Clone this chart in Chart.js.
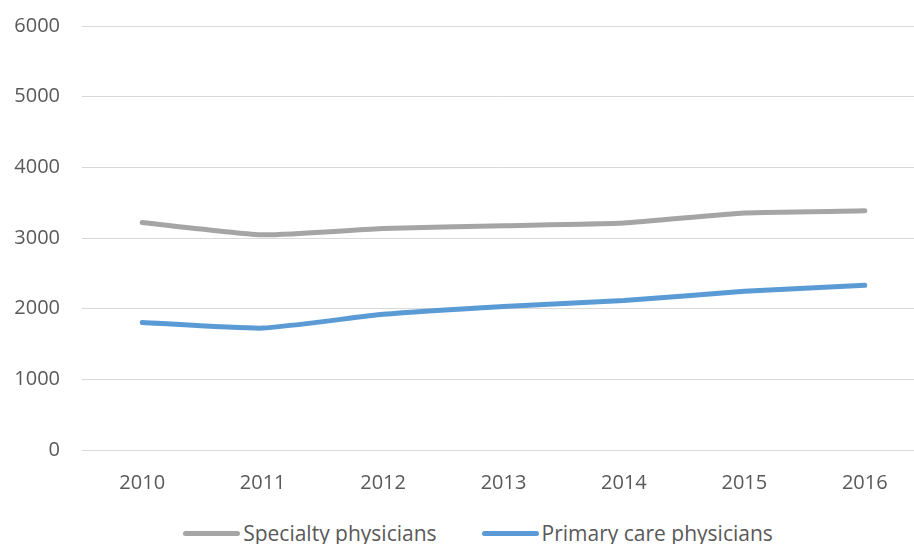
<!DOCTYPE html>
<html>
<head>
<meta charset="utf-8">
<script src="https://cdn.jsdelivr.net/npm/chart.js@4"></script>
<style>
  html, body { margin: 0; padding: 0; background: #fff; overflow: hidden; }
  body { position: relative; width: 914px; height: 544px; }
  #wrap { position: absolute; left: 0; top: -8px; width: 935px; height: 524px; }
  #legend {
    position: absolute; left: 0; top: 518px; width: 956px; height: 30px;
    display: flex; justify-content: center; align-items: center; gap: 45px;
    font-family: 'Open Sans', 'Liberation Sans', sans-serif; font-size: 21px; color: #595959;
  }
  #legend .item { display: flex; align-items: center; white-space: nowrap; }
  #legend .swatch { width: 57px; height: 5px; border-radius: 3px; margin-right: 3px; }
</style>
</head>
<body>
<div id="wrap"><canvas id="physiciansChart"></canvas></div>
<div id="legend"></div>
<script>
// Datos del gráfico
const years = ['2010', '2011', '2012', '2013', '2014', '2015', '2016'];
const specialty = [3220, 3045, 3135, 3175, 3212, 3355, 3385];
const primaryCare = [1805, 1725, 1920, 2032, 2115, 2245, 2330];
const seriesNames = ['Specialty physicians', 'Primary care physicians'];
const yTicks = [0, 1000, 2000, 3000, 4000, 5000, 6000];

const textColor = '#595959';
const gridColor = '#D9D9D9';
const fontFamily = "'Open Sans', 'Liberation Sans', sans-serif";

// Leyenda en HTML, generada a partir de los datasets
const htmlLegend = {
    id: 'htmlLegend',
    afterUpdate(chart) {
        const box = document.getElementById('legend');
        box.innerHTML = '';
        chart.data.datasets.forEach((ds) => {
            const item = document.createElement('div');
            item.className = 'item';
            const sw = document.createElement('span');
            sw.className = 'swatch';
            sw.style.background = ds.borderColor;
            const txt = document.createElement('span');
            txt.textContent = ds.label;
            item.appendChild(sw);
            item.appendChild(txt);
            box.appendChild(item);
        });
    }
};

const ctx = document.getElementById('physiciansChart');

new Chart(ctx, {
    type: 'line',
    data: {
        labels: years,
        datasets: [
            {
                label: seriesNames[0],
                data: specialty,
                borderColor: '#A5A5A5',
                borderWidth: 5,
                pointRadius: 0,
                tension: 0.15,
                borderCapStyle: 'round'
            },
            {
                label: seriesNames[1],
                data: primaryCare,
                borderColor: '#5B9BD5',
                borderWidth: 5,
                pointRadius: 0,
                tension: 0.15,
                borderCapStyle: 'round'
            }
        ]
    },
    plugins: [htmlLegend],
    options: {
        responsive: true,
        maintainAspectRatio: false,
        animation: false,
        layout: { padding: { top: 0, right: 10, left: 0, bottom: 0 } },
        scales: {
            x: {
                offset: true,
                grid: { display: false, drawTicks: false },
                border: { display: false },
                ticks: { color: textColor, font: { family: fontFamily, size: 20 }, padding: 21 }
            },
            y: {
                min: 0,
                max: 6000,
                afterBuildTicks: (scale) => { scale.ticks = yTicks.map(v => ({ value: v })); },
                afterFit: (scale) => { scale.width = 82; },
                grid: { color: gridColor, lineWidth: 1, drawTicks: false },
                border: { display: false },
                ticks: {
                    color: textColor,
                    font: { family: fontFamily, size: 20 },
                    padding: 22,
                    callback: (v) => String(v)
                }
            }
        },
        plugins: {
            legend: { display: false },
            tooltip: { enabled: false }
        }
    }
});
</script>
</body>
</html>
